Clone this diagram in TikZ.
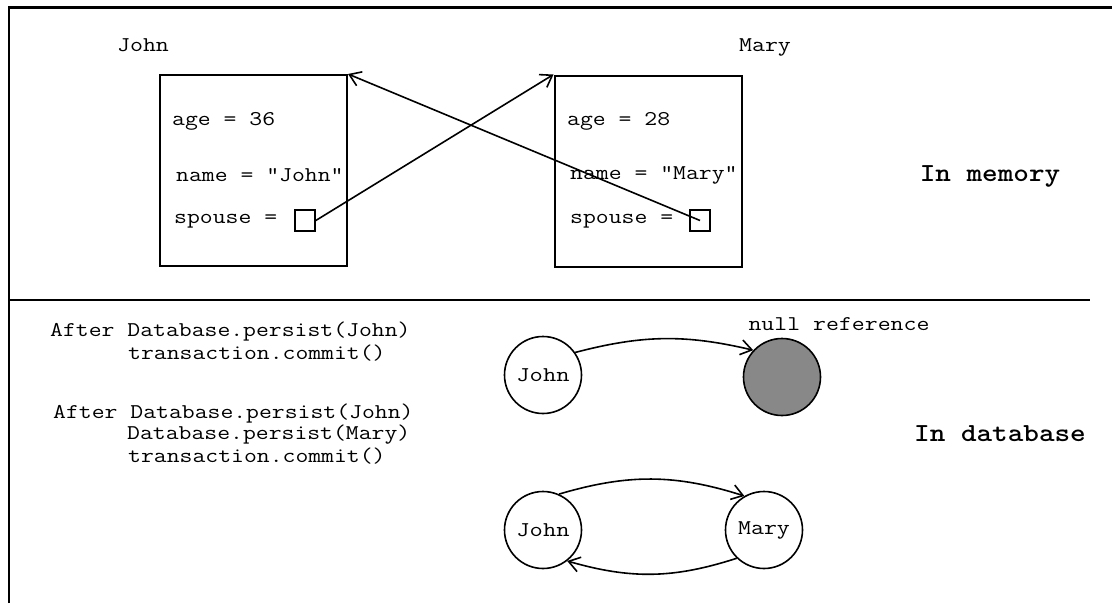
\documentclass[tikz,border=0pt]{standalone}
\usepackage{graphicx}
\usetikzlibrary{arrows.meta}

% typewriter text, widened to Courier proportions
\newcommand\cour[2][1.19]{\scalebox{#1}[1]{\ttfamily #2}}
\newcommand\courbf[1]{\scalebox{1.143}[1]{\ttfamily\bfseries #1}}

\begin{document}
\begin{tikzpicture}[x=1pt,y=-1pt,
  txt/.style={font=\fontsize{21}{24}\selectfont, inner sep=0pt, anchor=west},
  lbl/.style={font=\fontsize{21}{24}\selectfont, inner sep=0pt},
  head/.style={font=\fontsize{26}{30}\selectfont, inner sep=0pt},
  objbox/.style={draw, line width=2pt, minimum width=187pt, minimum height=191pt, inner sep=0pt},
  refbox/.style={draw, line width=1.6pt, minimum width=20pt, minimum height=21pt, inner sep=0pt},
  obj/.style={draw, circle, line width=1.6pt, minimum size=77pt, inner sep=0pt,
    font=\fontsize{21}{24}\selectfont},
  ref/.style={line width=1.6pt, -{Straight Barb[length=11pt,width=15pt,line width=1.6pt]}}
]
\useasboundingbox (0,0) rectangle (1112,603);

% outer frame and divider
\draw[line width=2.2pt] (9,603) -- (9,7.5) -- (1112,7.5);
\draw[line width=1.8pt] (9,300) -- (1090,300);

% objects in memory
\node[lbl] (jname) at (143,45) {\cour[1.2]{John}};
\node[lbl] (mname) at (765,47) {\cour[1.2]{Mary}};
\node[objbox] (jbox) at (253.5,170.5) {};
\node[objbox] (mbox) at (648,171) {};

\node[txt] (jage)  at (172,121) {\cour{age = 36}};
\node[txt] (jnm)   at (176,175) {\cour{name = "John"}};
\node[txt] (jsl)   at (174,221) {\cour{spouse =}};
\node[refbox] (jsp) at (305,220.5) {};

\node[txt] (mage)  at (567,121) {\cour{age = 28}};
\node[txt] (mnm)   at (570,175) {\cour{name = "Mary"}};
\node[txt] (msl)   at (570,221) {\cour{spouse =}};
\node[refbox] (msp) at (700,220.5) {};

\draw[ref] (jsp.east) -- (mbox.north west);
\draw[ref] (msp.center) -- (jbox.north east);

\node[head] (mem) at (990,176) {\courbf{In memory}};

% objects in the database
\node[txt] (a1) at (50,332) {\cour{After Database.persist(John)}};
\node[txt] (a2) at (128,353) {\cour{transaction.commit()}};

\node[txt] (b1) at (53,414) {\cour{After Database.persist(John)}};
\node[txt] (b2) at (127,435) {\cour{Database.persist(Mary)}};
\node[txt] (b3) at (128,456) {\cour{transaction.commit()}};

\node[obj] (j1) at (543,375) {\cour[1.23]{John}};
\node[obj, fill={rgb,255:red,136;green,136;blue,136}] (nul) at (782,377) {};
\node[lbl] (nlab) at (839,324) {\cour[1.195]{null reference}};
\draw[ref] (j1.35) to[bend left=14] (nul.137);

\node[obj] (j2) at (543,530) {\cour[1.23]{John}};
\node[obj] (m2) at (764,530) {\cour[1.2]{Mary}};
\draw[ref] (j2.66) to[bend left=17] (m2.120);
\draw[ref] (m2.226) to[bend left=17] (j2.-52);

\node[head] (db) at (1000,434) {\courbf{In database}};
\end{tikzpicture}
\end{document}
